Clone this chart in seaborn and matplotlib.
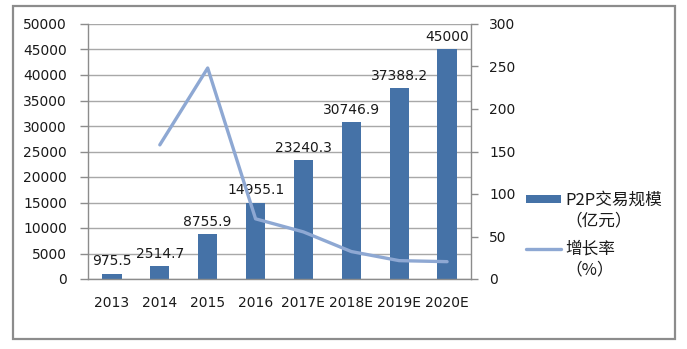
import matplotlib
matplotlib.use("Agg")
import matplotlib.pyplot as plt
import seaborn as sns
import pandas as pd
from matplotlib.patches import Rectangle
from matplotlib.lines import Line2D

# P2P lending volume (100 million yuan) and year-on-year growth (%)
years = ["2013", "2014", "2015", "2016", "2017E", "2018E", "2019E", "2020E"]
volume = [975.5, 2514.7, 8755.9, 14955.1, 23240.3, 30746.9, 37388.2, 45000]
growth_years = ["2014", "2015", "2016", "2017E", "2018E", "2019E", "2020E"]
growth = [157.8, 248.2, 70.8, 55.4, 32.3, 21.6, 20.4]

bar_label_lines = ["P2P交易规模", "（亿元）"]
line_label_lines = ["增长率", "（%）"]

BAR = "#4572A7"
LINE = "#8EA8D3"
AXIS = "#8C8C8C"
GRID = "#A8A8A8"
TEXT = "#1a1a1a"

sns.set_style("white")
plt.rcParams["font.family"] = ["DejaVu Sans", "Noto Sans CJK SC"]
plt.rcParams["font.size"] = 10
CJK = ["Noto Sans CJK SC", "DejaVu Sans"]

W, H = 687, 349
fig = plt.figure(figsize=(W / 100, H / 100), dpi=100)
ax = fig.add_axes([88 / W, 1 - 279 / H, (471 - 88) / W, (279 - 24) / H])

df = pd.DataFrame({"year": years, "volume": volume})
sns.barplot(data=df, x="year", y="volume", color=BAR, saturation=1, width=0.4,
            linewidth=0, ax=ax)
ax.bar_label(ax.containers[0], labels=[f"{v:g}" for v in volume],
             padding=4, fontsize=10, color=TEXT)

ax2 = ax.twinx()
gdf = pd.DataFrame({"pos": [years.index(y) for y in growth_years], "growth": growth})
sns.lineplot(data=gdf, x="pos", y="growth", color=LINE, linewidth=2.4,
             ax=ax2, legend=False)

ax.set_xlim(-0.5, 7.5)
ax2.set_xlim(-0.5, 7.5)
ax.set_ylim(0, 50000)
ax2.set_ylim(0, 300)
ax.set_yticks(range(0, 50001, 5000))
ax2.set_yticks(range(0, 301, 50))
for a in (ax, ax2):
    a.set_xlabel("")
    a.set_ylabel("")

# horizontal gridlines from the left axis
ax.yaxis.grid(True, color=GRID, linewidth=1)
ax.xaxis.grid(False)
ax2.grid(False)
ax.set_axisbelow(True)

# category ticks sit between the bars
ax.set_xticks(range(len(years)))
ax.set_xticklabels(years)
ax.set_xticks([i - 0.5 for i in range(len(years) + 1)], minor=True)
ax.tick_params(axis="x", which="major", length=0, pad=12, labelsize=10, labelcolor=TEXT)
ax.tick_params(axis="x", which="minor", length=5, width=1, color=AXIS, direction="out")
ax.tick_params(axis="y", length=6, width=1, color=AXIS, direction="out", pad=9,
               labelsize=10, labelcolor=TEXT, left=True)
ax2.tick_params(axis="y", length=5, width=1, color=AXIS, direction="out", pad=8,
                labelsize=10, labelcolor=TEXT, right=True)

for s in ("top", "right"):
    ax.spines[s].set_visible(False)
for s in ("left", "bottom"):
    ax.spines[s].set_color(AXIS)
    ax.spines[s].set_linewidth(1)
for s in ("top", "left", "bottom"):
    ax2.spines[s].set_visible(False)
ax2.spines["right"].set_visible(True)
ax2.spines["right"].set_color(AXIS)
ax2.spines["right"].set_linewidth(1)

# legend: series key on the first line, unit on the line below
bar_handle = ax.containers[0].patches[0]
line_handle = ax2.get_lines()[0]
blank = Line2D([], [], linestyle="none")
legend_kw = dict(loc="upper left", frameon=False, borderpad=0, borderaxespad=0,
                 handlelength=2.1, handleheight=0.4, handletextpad=0.25,
                 labelspacing=0.2, prop={"family": CJK, "size": 12},
                 labelcolor=TEXT)
fig.legend([bar_handle, blank], bar_label_lines,
           bbox_to_anchor=(526 / W, 1 - 192 / H), **legend_kw)
fig.legend([line_handle, blank], line_label_lines,
           bbox_to_anchor=(526 / W, 1 - 241 / H), **legend_kw)

# outer frame around the whole chart
fig.patches.append(Rectangle((13 / W, 1 - 339 / H), 662 / W, 333 / H,
                             transform=fig.transFigure, fill=False,
                             edgecolor=AXIS, linewidth=1.6))

fig.savefig("out.png", dpi=100)
